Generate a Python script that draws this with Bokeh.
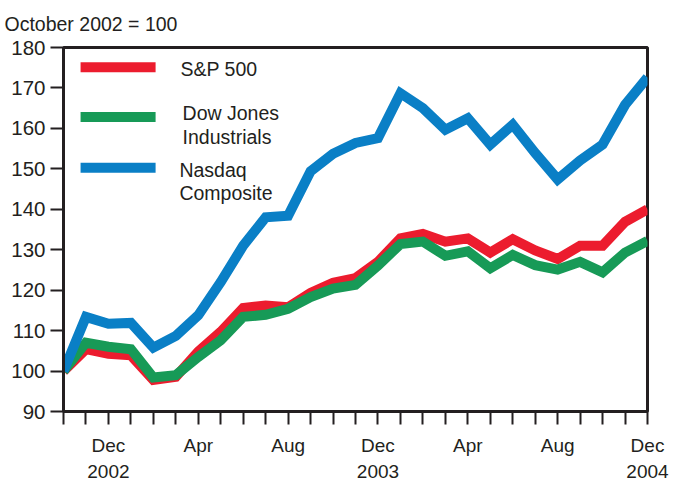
from bokeh.plotting import figure
from bokeh.models import Range1d, FixedTicker, Label
from bokeh.embed import file_html
from bokeh.resources import INLINE

# Months from Oct 2002 (0) to Dec 2004 (26)
months = list(range(27))
sp500 = [100.0, 105.4, 104.3, 103.9, 97.8, 98.6, 104.8, 109.7, 115.6, 116.2, 115.8, 119.3, 121.8,
         123.0, 127.0, 132.8, 133.9, 132.0, 132.8, 129.3, 132.6, 129.8, 127.7, 131.0, 131.0, 136.9, 140.0]
dow = [100.0, 107.0, 106.0, 105.4, 98.4, 99.0, 103.5, 107.6, 113.4, 113.9, 115.4, 118.3, 120.4,
       121.3, 126.1, 131.4, 132.0, 128.5, 129.6, 125.4, 128.7, 126.2, 125.1, 127.0, 124.4, 129.3, 132.2]
nasdaq = [100.0, 113.4, 111.7, 111.9, 105.8, 108.7, 113.8, 122.0, 131.0, 138.0, 138.4, 149.4, 153.7,
          156.4, 157.6, 168.7, 165.0, 159.7, 162.5, 156.0, 160.9, 153.9, 147.4, 152.1, 156.0, 165.8, 172.6]
y_ticks = [90, 100, 110, 120, 130, 140, 150, 160, 170, 180]
x_tick_labels = {2: "Dec\n2002", 6: "Apr", 10: "Aug", 14: "Dec\n2003", 18: "Apr", 22: "Aug", 26: "Dec\n2004"}
series_names = ["S&P 500", "Dow Jones\nIndustrials", "Nasdaq\nComposite"]
subtitle = "October 2002 = 100"

RED, GREEN, BLUE = "#ec1c2e", "#179a57", "#0a7fc6"
INK = "#231f20"
FONT = "Liberation Sans"

p = figure(width=673, height=484, output_backend="svg", toolbar_location=None,
           x_range=Range1d(0, 26), y_range=Range1d(90, 180),
           min_border_left=63, min_border_right=26, min_border_top=47, min_border_bottom=71)
p.xgrid.visible = False
p.ygrid.visible = False
p.outline_line_color = INK
p.outline_line_width = 3
p.background_fill_color = "white"
p.border_fill_color = "white"

p.title.text = subtitle
p.title.align = "left"
p.title.vertical_align = "top"
p.title.offset = -59
p.title.standoff = 22
p.title.text_font = FONT
p.title.text_font_size = "19.5px"
p.title.text_font_style = "normal"
p.title.text_color = INK

for ax in (p.xaxis[0], p.yaxis[0]):
    ax.axis_line_color = INK
    ax.axis_line_width = 3
    ax.major_tick_line_color = INK
    ax.major_tick_line_width = 2
    ax.major_tick_in = 0
    ax.major_tick_out = 13
    ax.minor_tick_line_color = None
    ax.major_label_text_color = INK
    ax.major_label_text_font = FONT

p.yaxis[0].ticker = FixedTicker(ticks=y_ticks)
p.yaxis[0].major_label_standoff = 5
p.yaxis[0].major_label_text_font_size = "20.5px"
p.xaxis[0].ticker = FixedTicker(ticks=months)
overrides = {m: "" for m in months}
overrides.update(x_tick_labels)
p.xaxis[0].major_label_overrides = overrides
p.xaxis[0].major_label_standoff = 10
p.xaxis[0].major_label_text_font_size = "19px"
p.xaxis[0].major_label_text_line_height = 1.25

for vals, col in ((sp500, RED), (dow, GREEN), (nasdaq, BLUE)):
    p.line(months, vals, line_color=col, line_width=10, line_join="miter")

# legend (drawn manually)
leg_x0, leg_x1 = 0.76, 4.1
leg_rows = [(175.1, RED, [(5.21, 174.8, "S&P 500")]),
            (162.8, GREEN, [(5.30, 163.8, "Dow Jones"), (5.30, 157.9, "Industrials")]),
            (150.25, BLUE, [(5.16, 149.8, "Nasdaq"), (5.16, 144.1, "Composite")])]
for (ly, col, texts), name in zip(leg_rows, series_names):
    p.segment(x0=[leg_x0], y0=[ly], x1=[leg_x1], y1=[ly], line_color=col, line_width=10)
    for tx, ty, t in texts:
        p.add_layout(Label(x=tx, y=ty, text=t, text_font=FONT, text_font_size="19.5px",
                           text_color=INK, text_baseline="middle", text_align="left"))

open("out.html", "w").write(file_html(p, INLINE))
